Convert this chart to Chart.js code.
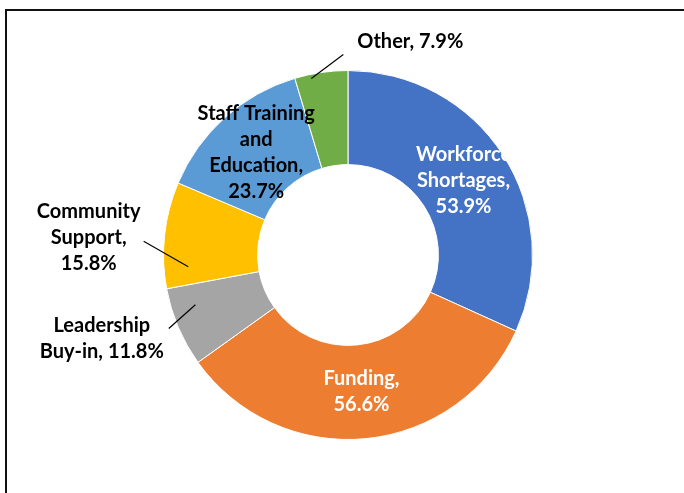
<!DOCTYPE html>
<html>
<head>
<meta charset="utf-8">
<script src="https://cdn.jsdelivr.net/npm/chart.js@4.4.1/dist/chart.umd.min.js"></script>
<style>
  html, body { margin: 0; padding: 0; background: #fff; }
  body { width: 684px; height: 493px; position: relative; overflow: hidden; }
  #frame {
    position: absolute; left: 5px; top: 9px; width: 700px; height: 500px;
    border-top: 2px solid #111; border-left: 2px solid #111;
  }
  #wrap { position: absolute; left: 0; top: 0; width: 684px; height: 493px; }
</style>
</head>
<body>
<div id="frame"></div>
<div id="wrap"><canvas id="chart" width="684" height="493"></canvas></div>
<script>
// data
const categories = [
  "Workforce Shortages",
  "Funding",
  "Leadership Buy-in",
  "Community Support",
  "Staff Training and Education",
  "Other",
];
const values = [53.9, 56.6, 11.8, 15.8, 23.7, 7.9];
const colors = ["#4472C4", "#ED7D31", "#A5A5A5", "#FFC000", "#5B9BD5", "#70AD47"];

// how each label is wrapped and placed
const labelLines = [
  ["Workforce", "Shortages,"],
  ["Funding,"],
  ["Leadership", "Buy-in,"],
  ["Community", "Support,"],
  ["Staff Training", "and", "Education,"],
  ["Other,"],
];
// inside labels sit on the arc centroid; outside ones get a leader line
// tip / elbow = [fraction along the arc, radius factor], offset = text centre from elbow
const labelStyle = [
  { inside: true, color: "#fff" },
  { inside: true, color: "#fff" },
  { inside: false, tip: [0.7, 0.87], elbow: [0.53, 1.05], offset: [-67, 10] },
  { inside: false, tip: [0.19, 0.868], elbow: [0.43, 1.11], offset: [-55, -4] },
  { inside: true, color: "#000" },
  { inside: false, tip: [0.3, 0.977], elbow: [0.92, 1.087], offset: [67, -13] },
];

const FONT = "bold 20px Lato";
const LINE_H = 26;

function textLines(i) {
  const lines = labelLines[i].slice();
  const pct = values[i].toFixed(1) + "%";
  // Leadership and Other keep the percentage on the same line
  if (i === 2 || i === 5) {
    lines[lines.length - 1] += " " + pct;
  } else {
    lines.push(pct);
  }
  return lines;
}

const labelPlugin = {
  id: "sliceLabels",
  afterDatasetsDraw(chart) {
    const ctx = chart.ctx;
    const meta = chart.getDatasetMeta(0);
    ctx.save();
    ctx.font = FONT;
    ctx.textAlign = "center";
    ctx.textBaseline = "middle";
    meta.data.forEach((arc, i) => {
      const st = labelStyle[i];
      const lines = textLines(i);
      let cx, cy;
      if (st.inside) {
        const p = arc.tooltipPosition();
        cx = p.x;
        cy = p.y;
        ctx.fillStyle = st.color;
      } else {
        const R = arc.outerRadius;
        const at = (f, r) => {
          const a = arc.startAngle + (arc.endAngle - arc.startAngle) * f;
          return [arc.x + Math.cos(a) * R * r, arc.y + Math.sin(a) * R * r];
        };
        const t = at(st.tip[0], st.tip[1]);
        const e = at(st.elbow[0], st.elbow[1]);
        ctx.strokeStyle = "#000";
        ctx.lineWidth = 1.2;
        ctx.beginPath();
        ctx.moveTo(t[0], t[1]);
        ctx.lineTo(e[0], e[1]);
        ctx.stroke();
        cx = e[0] + st.offset[0];
        cy = e[1] + st.offset[1];
        ctx.fillStyle = "#000";
      }
      const top = cy - ((lines.length - 1) * LINE_H) / 2;
      lines.forEach((ln, k) => ctx.fillText(ln, cx, top + k * LINE_H));
    });
    ctx.restore();
  },
};

new Chart(document.getElementById("chart"), {
  type: "doughnut",
  data: {
    labels: categories,
    datasets: [
      {
        data: values,
        backgroundColor: colors,
        borderColor: "#fff",
        borderWidth: 1,
      },
    ],
  },
  options: {
    responsive: false,
    animation: false,
    cutout: "49%",
    layout: { padding: { left: 163, right: 151, top: 70, bottom: 53 } },
    plugins: {
      legend: { display: false },
      tooltip: { enabled: false },
    },
  },
  plugins: [labelPlugin],
});
</script>
</body>
</html>
